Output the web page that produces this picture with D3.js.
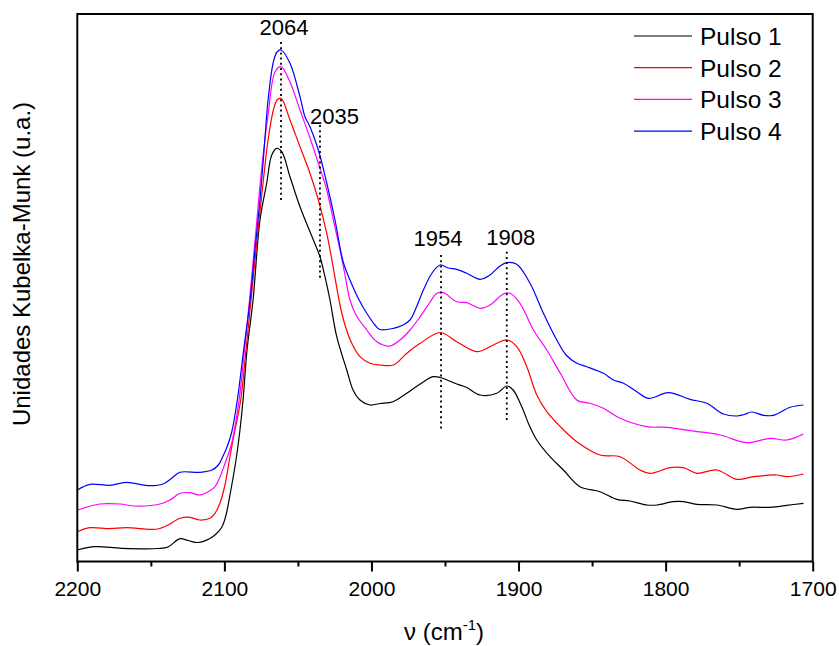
<!DOCTYPE html>
<html>
<head>
<meta charset="utf-8">
<script src="https://cdn.jsdelivr.net/npm/d3@7"></script>
<style>
  body { margin: 0; background: #fff; }
  text { font-family: "Liberation Sans", Arial, sans-serif; fill: #000; }
</style>
</head>
<body>
<div id="chart"></div>
<script>
// wavenumber (cm-1) and Kubelka-Munk intensity (arbitrary units) per pulse
const pulso1 = [
  [2200, 11.5], [2188, 14.8], [2169.8, 13.2], [2145.1, 13], [2138.3, 14.5], [2130.2, 22.8],
  [2124.7, 21], [2117.9, 19], [2109.8, 23], [2105.7, 27.5], [2101.6, 34.8], [2098.9, 46.5],
  [2096.2, 66.5], [2092.1, 101.5], [2089.4, 131.5], [2087.3, 161.5], [2084.6, 211.5],
  [2080.5, 261.5], [2075.8, 341.5], [2071.2, 378.5], [2067.8, 406.5], [2064.4, 413.2],
  [2061.0, 409.8], [2055.4, 384.8], [2048.6, 354.8], [2039.5, 321.5], [2035.0, 304.8],
  [2031.6, 284.8], [2028.2, 261.5], [2023.6, 224.8], [2016.8, 191.5], [2012.5, 171.5],
  [2007.8, 161.5], [2001.0, 156.5], [1994.2, 158], [1985.3, 159.8], [1976.0, 168.2],
  [1966.9, 177.5], [1958.1, 184.8], [1953.3, 184], [1942.0, 177.5], [1935.2, 174],
  [1926.1, 166.5], [1914.8, 168.2], [1908.0, 175.5], [1903.7, 171.5], [1897.8, 154.8],
  [1892.8, 136.5], [1887.6, 121.5], [1878.6, 104.8], [1869.5, 91.5], [1858.2, 74.8],
  [1844.6, 69.8], [1833.2, 62.2], [1824.2, 60.5], [1812.8, 56.5], [1806.0, 56.5],
  [1794.9, 59.8], [1787.9, 59.8], [1778.8, 57.2], [1765.2, 56.5], [1751.6, 52.2],
  [1742.6, 54.2], [1728.9, 54.2], [1717.6, 56.2], [1706.3, 58.2]
];
const pulso2 = [
  [2200, 29.8], [2191.4, 33.8], [2177.8, 32.8], [2166.9, 33.8], [2150.6, 32.2], [2145.1, 32.5],
  [2139.0, 36], [2130.2, 43.2], [2123.4, 44.2], [2116.6, 41.5], [2109.8, 43.2], [2106.4, 48.2],
  [2103.0, 58.5], [2099.6, 76.5], [2096.2, 105], [2094.1, 122], [2088.9, 161.5], [2085.3, 211.5],
  [2081.9, 261.5], [2077.8, 321.5], [2073.5, 381.5], [2070.3, 421.5], [2066.7, 451.5],
  [2064.2, 461.5], [2061.5, 463.2], [2055.4, 441.5], [2048.6, 414.8], [2041.8, 388.2],
  [2036.1, 361.5], [2030.4, 328.2], [2026.1, 294.8], [2021.4, 256.5], [2018.0, 236.5],
  [2013.4, 218.2], [2007.8, 204.8], [2001.0, 198.2], [1994.2, 196.5], [1985.1, 196.5],
  [1976.0, 208.2], [1966.9, 218.2], [1953.3, 229], [1942.0, 219.8], [1928.4, 209.8],
  [1917.1, 216.5], [1908.0, 221.5], [1901.2, 214.8], [1894.4, 194.8], [1887.6, 166.5],
  [1880.8, 149.8], [1871.6, 134.8], [1860.4, 119.8], [1844.6, 106.5], [1831.0, 104.8],
  [1817.4, 91.5], [1810.6, 88.2], [1797.0, 93.8], [1787.9, 93.8], [1778.8, 88.2],
  [1765.2, 91.5], [1751.6, 82.2], [1740.3, 84.8], [1724.4, 86.5], [1717.6, 84.8], [1706.3, 87.5]
];
const pulso3 = [
  [2200, 51.5], [2184.6, 57.5], [2171.0, 57.5], [2160.8, 55.5], [2143.8, 57.5], [2137.0, 61.5],
  [2130.2, 68.2], [2123.4, 68.8], [2116.6, 66.5], [2109.8, 70.8], [2106.4, 74.8], [2103.0, 84.5],
  [2099.6, 98], [2095.1, 118], [2090.0, 161.5], [2086.3, 211.5], [2082.9, 261.5],
  [2078.5, 331.5], [2074.4, 396.5], [2070.3, 446.5], [2065.5, 489.8], [2061.5, 494.8],
  [2055.4, 479.5], [2048.6, 451.5], [2041.8, 423.5], [2036.1, 398.2], [2030.4, 371.5],
  [2025.9, 341.5], [2021.4, 311.5], [2018.0, 286.5], [2014.6, 261.5], [2010.5, 246.5],
  [2003.2, 231.5], [1996.4, 219.8], [1987.4, 215.5], [1980.6, 221.5], [1973.8, 231.5],
  [1966.9, 244.8], [1960.1, 259.5], [1955.6, 268.2], [1951.1, 268.8], [1942.0, 259.8],
  [1935.2, 258.8], [1926.1, 253.2], [1919.4, 256.5], [1910.3, 267.5], [1905.8, 268.2],
  [1899.0, 258.2], [1889.9, 231.5], [1880.8, 211.5], [1871.6, 188.2], [1860.4, 161.5],
  [1851.4, 158.2], [1842.3, 153.2], [1830.9, 143.2], [1812.8, 134.8], [1799.2, 134.2],
  [1783.4, 130.8], [1762.9, 126.5], [1744.8, 118.8], [1728.9, 123.2], [1717.6, 121.5], [1706.3, 127.5]
];
const pulso4 = [
  [2200, 71.5], [2191.4, 77.2], [2177.8, 76.2], [2166.9, 79.2], [2150.6, 75.8], [2141.7, 77.5],
  [2135.6, 83.5], [2130.2, 89.2], [2116.6, 89.2], [2108.4, 91.5], [2104.1, 96.5], [2100.9, 105.5],
  [2098.2, 114.5], [2095.0, 129.5], [2091.2, 161.5], [2086.9, 211.5], [2082.5, 261.5],
  [2079.2, 311.5], [2075.8, 361.5], [2073.0, 411.5], [2070.3, 461.5], [2066.7, 499.5],
  [2064.2, 509.5], [2061.5, 511.5], [2055.4, 498.2], [2048.6, 464.8], [2045.2, 444.8],
  [2041.8, 434.8], [2036.1, 411.5], [2030.4, 378.5], [2024.8, 341.5], [2019.2, 299.5],
  [2014.6, 281.5], [2009.1, 263.5], [2003.2, 248.2], [1997.6, 236.5], [1994.2, 232],
  [1985.1, 233.2], [1978.5, 236.5], [1973.8, 241.5], [1969.7, 253.5], [1964.7, 271.5],
  [1958.8, 288.5], [1953.3, 296.5], [1947.9, 293.5], [1942.0, 292.2], [1935.2, 288.2],
  [1926.1, 282.2], [1919.4, 286.5], [1912.6, 295.5], [1908.0, 298.8], [1901.2, 297.2],
  [1892.2, 278.2], [1883.1, 248.2], [1874.0, 221.5], [1867.7, 206.5], [1860.4, 198.2],
  [1853.6, 194.8], [1842.3, 188.2], [1835.5, 181.5], [1828.7, 178.2], [1819.6, 169.8],
  [1811.7, 163.2], [1798.1, 168.8], [1783.4, 162.2], [1772.0, 158.2], [1760.7, 147.5],
  [1751.6, 145.5], [1746.6, 147], [1741.4, 149.5], [1733.5, 146.2], [1726.7, 146.2],
  [1715.3, 154.2], [1706.3, 156.5]
];

const seriesNames = ["Pulso 1", "Pulso 2", "Pulso 3", "Pulso 4"];
const seriesData = [pulso1, pulso2, pulso3, pulso4];
const colors = ["#000000", "#ff0000", "#ff00ff", "#0000ff"];

const majorTicks = [2200, 2100, 2000, 1900, 1800, 1700];
const minorTicks = [2150, 2050, 1950, 1850, 1750];

// marked bands: label, position (cm-1), dotted line from/to (a.u.)
const bandLabels = ["2064", "2035", "1954", "1908"];
const bandPos = [2061.5, 2035.0, 1952.7, 1908.0];
const bandTop = [519.5, 436.5, 306.5, 309.8];
const bandBottom = [358.5, 281.5, 129.8, 138.8];

const W = 839, H = 646;
const plot = {left: 77.3, right: 812.7, top: 14, bottom: 561.5};

const svg = d3.select("#chart").append("svg")
  .attr("width", W)
  .attr("height", H);

const x = d3.scaleLinear().domain([2200, 1700]).range([plot.left, plot.right]);
const y = d3.scaleLinear().domain([0, 547.5]).range([plot.bottom, plot.top]);

const line = d3.line()
  .x(d => x(d[0]))
  .y(d => y(d[1]))
  .curve(d3.curveCatmullRom.alpha(0.5));

// curves
svg.selectAll(".curve")
  .data(seriesData)
  .join("path")
  .attr("class", "curve")
  .attr("d", line)
  .attr("fill", "none")
  .attr("stroke", (d, i) => colors[i])
  .attr("stroke-width", 1.2);

// dotted band markers, labels nudged like the original
const labelDx = [3, 14.5, -3, 4];
const labelDy = [-7.5, -1, -9, -6.7];
const bands = bandLabels.map((l, i) => ({
  label: l, pos: bandPos[i], y1: bandTop[i], y2: bandBottom[i], dx: labelDx[i], dy: labelDy[i]
}));

svg.selectAll(".band")
  .data(bands)
  .join("line")
  .attr("class", "band")
  .attr("x1", d => x(d.pos))
  .attr("x2", d => x(d.pos))
  .attr("y1", d => y(d.y1))
  .attr("y2", d => y(d.y2))
  .attr("stroke", "#000")
  .attr("stroke-width", 1.8)
  .attr("stroke-dasharray", "2,3.2");

svg.selectAll(".bandLabel")
  .data(bands)
  .join("text")
  .attr("class", "bandLabel")
  .attr("x", d => x(d.pos) + d.dx)
  .attr("y", d => y(d.y1) + d.dy)
  .attr("text-anchor", "middle")
  .style("font-size", "22px")
  .text(d => d.label);

// x axis, major and minor ticks
const axisMajor = svg.append("g")
  .attr("transform", `translate(0, ${plot.bottom})`)
  .call(d3.axisBottom(x).tickValues(majorTicks).tickSize(10).tickPadding(10).tickFormat(d3.format("d")));
axisMajor.select(".domain").remove();
axisMajor.selectAll("line").attr("stroke-width", 2);
axisMajor.selectAll("text").style("font-size", "21px");
axisMajor.attr("font-family", null);

const axisMinor = svg.append("g")
  .attr("transform", `translate(0, ${plot.bottom})`)
  .call(d3.axisBottom(x).tickValues(minorTicks).tickSize(5).tickFormat(""));
axisMinor.select(".domain").remove();
axisMinor.selectAll("line").attr("stroke-width", 2);

// frame
svg.append("rect")
  .attr("x", plot.left)
  .attr("y", plot.top)
  .attr("width", plot.right - plot.left)
  .attr("height", plot.bottom - plot.top)
  .attr("fill", "none")
  .attr("stroke", "#000")
  .attr("stroke-width", 2);

// axis titles
const xTitle = svg.append("text")
  .attr("x", 444)
  .attr("y", 640)
  .attr("text-anchor", "middle")
  .style("font-size", "24px");
xTitle.append("tspan").text("ν (cm");
xTitle.append("tspan").attr("dy", -10).style("font-size", "15px").text("-1");
xTitle.append("tspan").attr("dy", 10).text(")");

svg.append("text")
  .attr("transform", "translate(30, 264) rotate(-90)")
  .attr("text-anchor", "middle")
  .style("font-size", "24px")
  .text("Unidades Kubelka-Munk (u.a.)");

// legend
const legend = svg.selectAll(".legendItem")
  .data(seriesNames)
  .join("g")
  .attr("class", "legendItem")
  .attr("transform", (d, i) => `translate(634, ${36 + i * 31.7})`);
legend.append("line")
  .attr("x1", 0)
  .attr("x2", 58)
  .attr("stroke", (d, i) => colors[i])
  .attr("stroke-width", 1.2);
legend.append("text")
  .attr("x", 66)
  .attr("y", 9)
  .style("font-size", "24.5px")
  .text(d => d);
</script>
</body>
</html>
